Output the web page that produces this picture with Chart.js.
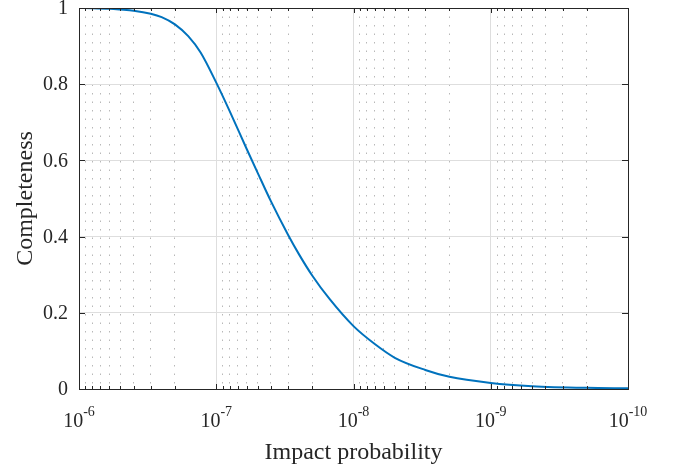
<!DOCTYPE html>
<html>
<head>
<meta charset="utf-8">
<script src="https://cdn.jsdelivr.net/npm/chart.js@4.4.0/dist/chart.umd.min.js"></script>
<style>
  html, body { margin: 0; padding: 0; background: #fff; }
  #wrap { width: 676px; height: 468px; }
</style>
</head>
<body>
<div id="wrap"><canvas id="chart" width="676" height="468"></canvas></div>
<script>
// Curve (impact probability -> completeness)
const probability = [
  1e-6, 8e-7, 6e-7, 5e-7, 4e-7, 3e-7, 2.5e-7, 2e-7, 1.6e-7, 1.3e-7,
  1e-7, 8e-8, 6e-8, 5e-8, 4e-8, 3e-8, 2.5e-8, 2e-8, 1.5e-8,
  1e-8, 7e-9, 5e-9, 3e-9, 2e-9, 1e-9, 5e-10, 2e-10, 1e-10
]
const completeness = [
  1.0, 0.9995, 0.998, 0.996, 0.993, 0.985, 0.976, 0.957, 0.926, 0.883,
  0.804, 0.73, 0.63, 0.568, 0.493, 0.405, 0.354, 0.298, 0.237,
  0.165, 0.118, 0.082, 0.05, 0.032, 0.016, 0.0075, 0.003, 0.002
]

// Axis ticks
const xExponents = [-6, -7, -8, -9, -10]
const yTicks = [0, 0.2, 0.4, 0.6, 0.8, 1]
const yTickLabels = ["0", "0.2", "0.4", "0.6", "0.8", "1"]

const FONT = "'Liberation Serif', 'Times New Roman', serif"
const AXIS_COLOR = "#262626"

// every 1..9 x 10^n between 1e-10 and 1e-6
const xTickValues = []
for (let n = -10; n < -6; n++) {
  for (let k = 1; k <= 9; k++) xTickValues.push(k * Math.pow(10, n))
}
xTickValues.push(1e-6)

function isDecade(v) {
  const l = Math.log10(v)
  return Math.abs(l - Math.round(l)) < 1e-9
}

// box, inward ticks, tick labels and axis titles
const matlabAxes = {
  id: "matlabAxes",
  afterDraw(chart) {
    const { ctx, chartArea: a, scales } = chart
    const xs = scales.x
    const ys = scales.y
    ctx.save()
    ctx.strokeStyle = AXIS_COLOR
    ctx.lineWidth = 1

    // ticks
    ctx.beginPath()
    xTickValues.forEach((v) => {
      const px = Math.round(xs.getPixelForValue(v)) + 0.5
      const len = isDecade(v) ? 5 : 3
      ctx.moveTo(px, a.bottom)
      ctx.lineTo(px, a.bottom - len)
      ctx.moveTo(px, a.top)
      ctx.lineTo(px, a.top + len)
    })
    yTicks.forEach((v) => {
      const py = Math.round(ys.getPixelForValue(v)) + 0.5
      ctx.moveTo(a.left, py)
      ctx.lineTo(a.left + 6, py)
      ctx.moveTo(a.right, py)
      ctx.lineTo(a.right - 6, py)
    })
    ctx.stroke()

    // box
    ctx.strokeRect(a.left + 0.5, a.top + 0.5, a.right - a.left, a.bottom - a.top)

    ctx.fillStyle = AXIS_COLOR

    // y tick labels
    ctx.font = "20px " + FONT
    ctx.textAlign = "right"
    ctx.textBaseline = "middle"
    yTicks.forEach((v, i) => {
      ctx.fillText(yTickLabels[i], a.left - 11, ys.getPixelForValue(v) + 1)
    })

    // x tick labels: 10^n
    ctx.textBaseline = "alphabetic"
    ctx.textAlign = "left"
    xExponents.forEach((e) => {
      const px = xs.getPixelForValue(Math.pow(10, e))
      ctx.font = "20px " + FONT
      const wBase = ctx.measureText("10").width
      ctx.font = "14px " + FONT
      const sup = String(e)
      const wSup = ctx.measureText(sup).width
      const x0 = px - (wBase + wSup) / 2
      ctx.font = "20px " + FONT
      ctx.fillText("10", x0, 427)
      ctx.font = "14px " + FONT
      ctx.fillText(sup, x0 + wBase, 416)
    })

    // axis titles
    ctx.font = "24px " + FONT
    ctx.textAlign = "center"
    ctx.fillText("Impact probability", (a.left + a.right) / 2, 459)
    ctx.save()
    ctx.translate(32, (a.top + a.bottom) / 2)
    ctx.rotate(-Math.PI / 2)
    ctx.fillText("Completeness", 0, 0)
    ctx.restore()

    ctx.restore()
  },
}

new Chart(document.getElementById("chart"), {
  type: "line",
  data: {
    datasets: [
      {
        data: probability.map((p, i) => ({ x: p, y: completeness[i] })),
        borderColor: "#0072BD",
        borderWidth: 2,
        pointRadius: 0,
        fill: false,
        cubicInterpolationMode: "monotone",
      },
    ],
  },
  options: {
    responsive: false,
    animation: false,
    devicePixelRatio: 1,
    layout: { padding: { top: 8, right: 48, left: 0, bottom: 0 } },
    plugins: { legend: { display: false }, tooltip: { enabled: false } },
    scales: {
      x: {
        type: "logarithmic",
        reverse: true,
        min: 1e-10,
        max: 1e-6,
        afterBuildTicks: (scale) => {
          scale.ticks = xTickValues.map((v) => ({ value: v }))
        },
        afterFit: (scale) => {
          scale.height = 79
        },
        ticks: { display: false },
        border: {
          display: false,
          dash: (ctx) => (ctx.tick && !isDecade(ctx.tick.value) ? [1.5, 7] : []),
        },
        grid: {
          drawTicks: false,
          color: (ctx) => (ctx.tick && isDecade(ctx.tick.value) ? "#dedede" : "#b8b8b8"),
        },
      },
      y: {
        min: 0,
        max: 1,
        afterBuildTicks: (scale) => {
          scale.ticks = yTicks.map((v) => ({ value: v }))
        },
        afterFit: (scale) => {
          scale.width = 79
        },
        ticks: { display: false },
        border: { display: false },
        grid: { drawTicks: false, color: "#dedede" },
      },
    },
  },
  plugins: [matlabAxes],
})
</script>
</body>
</html>
